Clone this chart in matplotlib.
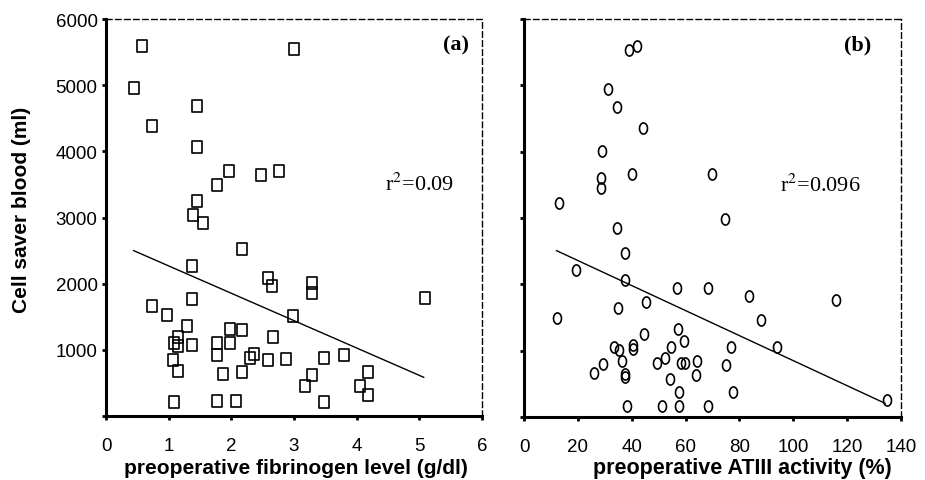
import numpy as np
import matplotlib
matplotlib.use("Agg")
import matplotlib.pyplot as plt
from matplotlib.path import Path

# panel (a): preoperative fibrinogen (g/dl) vs cell saver blood (ml)
fib = [0.57, 3.00, 0.45, 1.46, 0.74, 1.45, 1.97, 2.48, 2.76, 1.77,
       1.46, 1.39, 1.55, 2.17, 1.38, 2.59, 2.65, 3.28, 3.28, 1.38,
       0.74, 0.98, 2.99, 1.29, 1.98, 1.98, 2.17, 2.66, 1.15, 1.08,
       1.15, 1.38, 1.77, 1.77, 2.36, 2.29, 1.07, 2.59, 2.87, 1.15,
       1.86, 2.17, 3.28, 3.17, 1.08, 1.77, 2.07, 5.09, 3.48, 3.79,
       4.18, 4.05, 4.18, 3.48]
cs_fib = [5590, 5540, 4960, 4680, 4380, 4070, 3700, 3640, 3700, 3490,
          3250, 3040, 2910, 2520, 2260, 2080, 1970, 2010, 1860, 1770,
          1670, 1530, 1510, 1360, 1310, 1110, 1300, 1200, 1190, 1100,
          1060, 1080, 1100, 920, 940, 870, 840, 840, 860, 680,
          630, 670, 620, 450, 210, 220, 230, 1790, 870, 920,
          670, 450, 320, 210]
fit_fib_x = [0.44, 5.07]
fit_fib_y = [2500, 585]

# panel (b): preoperative ATIII activity (%) vs cell saver blood (ml)
at3 = [39.1, 42.1, 31.3, 34.4, 44.3, 29.1, 40.2, 69.9, 28.5, 28.5,
       13.1, 34.4, 74.6, 37.5, 19.2, 37.5, 56.9, 68.4, 45.3, 35.0,
       12.4, 57.1, 44.6, 59.5, 33.5, 35.3, 40.6, 40.6, 54.5, 52.4,
       36.3, 49.3, 58.2, 59.8, 64.4, 29.2, 26.0, 37.5, 37.5, 63.9,
       54.4, 57.5, 38.1, 51.4, 57.5, 68.4, 83.7, 115.7, 88.0, 76.9,
       94.1, 74.9, 77.7, 134.9]
cs_at3 = [5540, 5590, 4940, 4680, 4350, 4010, 3670, 3660, 3600, 3450,
          3220, 2850, 2990, 2470, 2220, 2070, 1940, 1940, 1730, 1640,
          1490, 1330, 1250, 1150, 1060, 1010, 1090, 1020, 1050, 890,
          850, 810, 810, 820, 850, 800, 670, 650, 600, 630,
          570, 380, 170, 170, 170, 170, 1820, 1760, 1460, 1050,
          1050, 790, 370, 250]
fit_at3_x = [12.1, 134.1]
fit_at3_y = [2508, 206]

y_ticks = [0, 1000, 2000, 3000, 4000, 5000, 6000]
y_labels = ["", "1000", "2000", "3000", "4000", "5000", "6000"]
fib_ticks = [0, 1, 2, 3, 4, 5, 6]
at3_ticks = [0, 20, 40, 60, 80, 100, 120, 140]

SANS = ["Liberation Sans", "DejaVu Sans"]
SERIF = ["Liberation Serif", "DejaVu Serif"]

# slightly tall open markers, as in the scan
t = np.linspace(0, 2 * np.pi, 40)
ELLIPSE = Path(np.column_stack([0.72 * np.cos(t), np.sin(t)]))
RECT = Path([(-0.82, -1), (0.82, -1), (0.82, 1), (-0.82, 1), (-0.82, -1)],
            [Path.MOVETO, Path.LINETO, Path.LINETO, Path.LINETO, Path.CLOSEPOLY])

fig = plt.figure(figsize=(9.25, 4.81), dpi=100)
axA = fig.add_axes([106 / 925, 1 - 417 / 481, 376 / 925, 397 / 481])
axB = fig.add_axes([524 / 925, 1 - 418 / 481, 377 / 925, 398 / 481])


def style(ax, xmax, xticks, ylabels):
    ax.set_xlim(0, xmax)
    ax.set_ylim(0, 6000)
    for s in ("left", "bottom"):
        ax.spines[s].set_linewidth(2.2)
    for s in ("top", "right"):
        ax.spines[s].set_linewidth(1.0)
        ax.spines[s].set_linestyle((0, (4, 2.5)))
    ax.set_xticks(xticks)
    ax.set_xticklabels([str(v) for v in xticks], family=SANS, fontsize=13.5)
    ax.set_yticks(y_ticks)
    ax.set_yticklabels(ylabels, family=SANS, fontsize=13.5)
    ax.tick_params(axis="x", direction="out", length=3, width=2, pad=12)
    ax.tick_params(axis="y", direction="out", length=3, width=2, pad=3)


axA.plot(fib, cs_fib, linestyle="none", marker=RECT, ms=8, mfc="none", mec="black", mew=1.2)
axA.plot(fit_fib_x, fit_fib_y, color="black", lw=1.0)
style(axA, 6, fib_ticks, y_labels)
axA.text(0.93, 0.935, "(a)", transform=axA.transAxes, ha="center", va="center",
         family=SERIF, fontweight="bold", fontsize=16)
axA.text(0.835, 0.584, "r$^{2}$=0.09", transform=axA.transAxes, ha="center", va="center",
         family=SERIF, fontsize=16, math_fontfamily="stix")

axB.plot(at3, cs_at3, linestyle="none", marker=ELLIPSE, ms=8, mfc="none", mec="black", mew=1.2)
axB.plot(fit_at3_x, fit_at3_y, color="black", lw=1.0)
style(axB, 140, at3_ticks, [""] * len(y_ticks))
axB.text(0.885, 0.935, "(b)", transform=axB.transAxes, ha="center", va="center",
         family=SERIF, fontweight="bold", fontsize=16)
axB.text(0.785, 0.584, "r$^{2}$=0.096", transform=axB.transAxes, ha="center", va="center",
         family=SERIF, fontsize=16, math_fontfamily="stix")

fig.text(22 / 925, 1 - 210 / 481, "Cell saver blood (ml)", rotation=90,
         ha="center", va="center", family=SANS, fontweight="bold", fontsize=15)
fig.text(296 / 925, 1 - 469 / 481, "preoperative fibrinogen level (g/dl)",
         ha="center", va="center", family=SANS, fontweight="bold", fontsize=15)
fig.text(742 / 925, 1 - 469 / 481, "preoperative ATIII activity (%)",
         ha="center", va="center", family=SANS, fontweight="bold", fontsize=15.5)

fig.savefig("out.png", dpi=100)
